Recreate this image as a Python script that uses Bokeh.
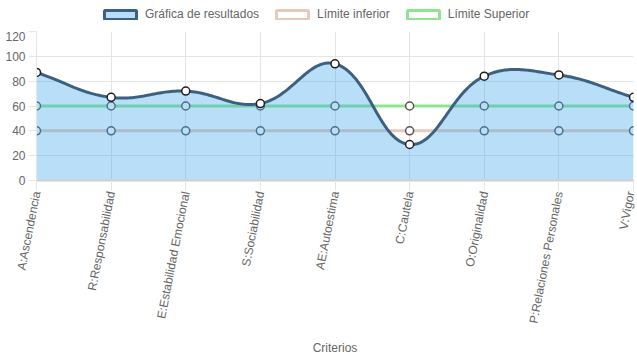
import math
import numpy as np
from bokeh.plotting import figure
from bokeh.layouts import column
from bokeh.models import Range1d, FixedTicker, Legend, LegendItem, ColumnDataSource
from bokeh.embed import file_html
from bokeh.resources import INLINE

# ---- data ----
categories = ["A:Ascendencia", "R:Responsabilidad", "E:Estabilidad Emocional",
              "S:Sociabilidad", "AE:Autoestima", "C:Cautela", "O:Originalidad",
              "P:Relaciones Personales", "V:Vigor"]
resultados = [87, 67, 72, 62, 94, 29, 84, 85, 67]
limite_inferior = [40, 40, 40, 40, 40, 40, 40, 40, 40]
limite_superior = [60, 60, 60, 60, 60, 60, 60, 60, 60]
y_ticks = [0, 20, 40, 60, 80, 100, 120]
series_names = ["Gráfica de resultados", "Límite inferior", "Límite Superior"]

FONT = "Liberation Sans"
TXT = "#666666"
W = 637
LEG_H = 31
H = 359 - LEG_H
ML, MR, MT, MB = 36, 4, 0, 179
frame_w = W - ML - MR
frame_h = H - MT - MB

COL_MAIN_LINE = "#3d6080"
COL_MAIN_FILL = "#36a2eb"
COL_LOW = "#e8c9bd"
COL_UP = "#8fe58f"

xs = list(range(len(categories)))
sx = frame_w / (len(categories) - 1)
sy = frame_h / (y_ticks[-1] - y_ticks[0])


def spline_path(xv, yv, t=0.4, steps=40):
    px = [a * sx for a in xv]
    py = [b * sy for b in yv]
    n = len(px)
    prev_c, next_c = [], []
    for i in range(n):
        ip = i - 1 if i > 0 else i
        inx = i + 1 if i < n - 1 else i
        d01 = math.hypot(px[i] - px[ip], py[i] - py[ip])
        d12 = math.hypot(px[inx] - px[i], py[inx] - py[i])
        tot = d01 + d12
        s01 = d01 / tot if tot else 0
        s12 = d12 / tot if tot else 0
        fa, fb = t * s01, t * s12
        dx, dy = px[inx] - px[ip], py[inx] - py[ip]
        prev_c.append((px[i] - fa * dx, py[i] - fa * dy))
        next_c.append((px[i] + fb * dx, py[i] + fb * dy))
    ox, oy = [], []
    tt = np.linspace(0, 1, steps)
    for i in range(n - 1):
        p0 = np.array([px[i], py[i]])
        p1 = np.array(next_c[i])
        p2 = np.array(prev_c[i + 1])
        p3 = np.array([px[i + 1], py[i + 1]])
        for k, u in enumerate(tt):
            if i > 0 and k == 0:
                continue
            b = ((1 - u) ** 3) * p0 + 3 * ((1 - u) ** 2) * u * p1 + 3 * (1 - u) * u * u * p2 + (u ** 3) * p3
            ox.append(float(b[0] / sx))
            oy.append(float(min(max(b[1] / sy, y_ticks[0]), y_ticks[-1])))
    return ox, oy


cx, cy = spline_path(xs, resultados)

# ---------- legend strip ----------
lf = figure(width=W, height=LEG_H, output_backend="svg", toolbar_location=None,
            x_range=Range1d(0, 1), y_range=Range1d(0, 1),
            x_axis_location=None, y_axis_location=None,
            min_border_left=0, min_border_right=0, min_border_top=0, min_border_bottom=0)
lf.outline_line_color = None
lf.grid.visible = False
lf.border_fill_color = "white"
swatch = ColumnDataSource(dict(x=[float("nan")], y=[float("nan")]))
r1 = lf.rect("x", "y", 1, 1, source=swatch, fill_color="#b9dcf7", line_color=COL_MAIN_LINE, line_width=3)
r2 = lf.rect("x", "y", 1, 1, source=swatch, fill_color="white", line_color=COL_LOW, line_width=3)
r3 = lf.rect("x", "y", 1, 1, source=swatch, fill_color="white", line_color=COL_UP, line_width=3)
legend = Legend(items=[LegendItem(label=series_names[0], renderers=[r1]),
                       LegendItem(label=series_names[1], renderers=[r2]),
                       LegendItem(label=series_names[2], renderers=[r3])],
                orientation="horizontal", location=(64, 10),
                glyph_width=40, glyph_height=11, label_standoff=5, spacing=13,
                padding=3, margin=0, label_height=12,
                label_text_font=FONT, label_text_font_size="12px", label_text_color=TXT,
                border_line_color=None, background_fill_alpha=0)
lf.add_layout(legend)

# ---------- main chart ----------
p = figure(width=W, height=H, output_backend="svg", toolbar_location=None,
           x_range=Range1d(0, len(categories) - 1), y_range=Range1d(y_ticks[0], y_ticks[-1]),
           min_border_left=ML, min_border_right=MR, min_border_top=MT, min_border_bottom=MB)
p.outline_line_color = None
p.background_fill_color = "white"
p.border_fill_color = "white"

# limit lines
p.line(xs, limite_inferior, line_color=COL_LOW, line_width=3)
p.line(xs, limite_superior, line_color=COL_UP, line_width=3)
p.scatter(xs, limite_inferior, size=8, fill_color="white", line_color="#555555", line_width=1.5)
p.scatter(xs, limite_superior, size=8, fill_color="white", line_color="#555555", line_width=1.5)

# filled area of results
p.varea(x=cx, y1=[0.0] * len(cx), y2=cy, fill_color=COL_MAIN_FILL, fill_alpha=0.35)
p.line(cx, cy, line_color=COL_MAIN_LINE, line_width=3)
p.scatter(xs, resultados, size=8, fill_color="white", line_color="#1f1f1f", line_width=1.5)

# axes
p.xaxis.ticker = FixedTicker(ticks=xs)
p.xaxis.major_label_overrides = {i: c for i, c in enumerate(categories)}
p.xaxis.major_label_orientation = math.radians(79)
p.yaxis.ticker = FixedTicker(ticks=y_ticks)
for ax in (p.xaxis, p.yaxis):
    ax.major_label_text_font = FONT
    ax.major_label_text_font_size = "12px"
    ax.major_label_text_color = TXT
    ax.major_tick_out = 8
    ax.major_tick_in = 0
    ax.minor_tick_line_color = None
    ax.major_tick_line_color = "#e5e5e5"
    ax.major_label_standoff = 3
p.xaxis.major_tick_out = 10
p.xaxis.major_label_standoff = 1
p.xaxis.axis_line_color = "#cfcfcf"
p.xaxis.axis_line_width = 2
p.yaxis.axis_line_color = "#e5e5e5"
p.xaxis.axis_label = "Criterios"
p.xaxis.axis_label_text_font = FONT
p.xaxis.axis_label_text_font_size = "12px"
p.xaxis.axis_label_text_font_style = "normal"
p.xaxis.axis_label_text_color = TXT
p.xaxis.axis_label_standoff = 12

p.xgrid.ticker = FixedTicker(ticks=xs)
p.ygrid.ticker = FixedTicker(ticks=y_ticks)
p.xgrid.grid_line_color = "#e5e5e5"
p.ygrid.grid_line_color = "#e5e5e5"

layout = column(lf, p, spacing=0)
open("out.html", "w").write(file_html(layout, INLINE))
